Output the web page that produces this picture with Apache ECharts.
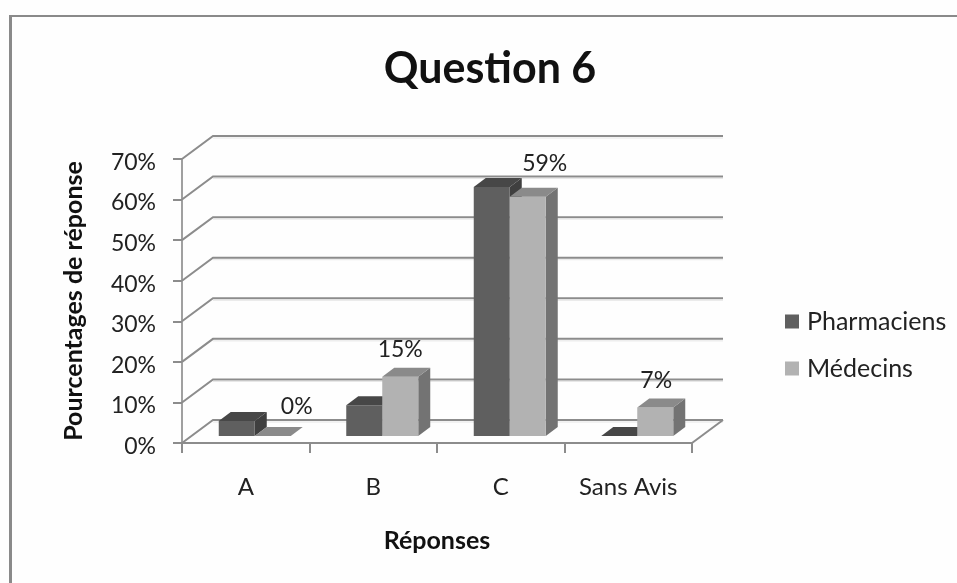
<!DOCTYPE html>
<html><head><meta charset="utf-8">
<style>html,body{margin:0;padding:0;background:#fefefe}#c{width:957px;height:583px}</style>
<script src="https://cdn.jsdelivr.net/npm/echarts@6/dist/echarts.min.js"></script>
</head><body><div id="c"></div>
<script>
const categories = ['A', 'B', 'C', 'Sans Avis'];
const pharmaciens = [3.7, 7.6, 61.4, 0];
const medecins = [0, 14.6, 59, 7];
const medecinsLabels = ['0%', '15%', '59%', '7%'];
const yTicks = [0, 10, 20, 30, 40, 50, 60, 70];

// Pseudo-3D styling (pixels)
const WALL_DX = 31, WALL_DY = -23;
const BAR_DX = 12, BAR_DY = -9, FLOOR_DX = 9, FLOOR_DY = -7;
const LABEL_SHIFT = [[24, -29], [0, -27], [17, -33], [1, -27]];
const FONT = 'Lato, Carlito, "Open Sans", sans-serif';
const GREY = '#8c8c8c';

function wallItem(params, api) {
  const v = api.value(0);
  const p = api.coord([0, v]);
  const cs = params.coordSys;
  const x0 = cs.x, x1 = cs.x + cs.width, y = p[1];
  const style = { stroke: GREY, lineWidth: 2, fill: null };
  const children = [
    { type: 'polyline', shape: { points: [[x0, y], [x0 + WALL_DX, y + WALL_DY], [x1 + WALL_DX, y + WALL_DY]] }, style },
    { type: 'line', shape: { x1: x0 + WALL_DX, y1: y + WALL_DY + 2, x2: x1 + WALL_DX, y2: y + WALL_DY + 2 }, style: { stroke: '#e6e6e6', lineWidth: 1 } }
  ];
  if (v === 0) {
    children.push({ type: 'line', shape: { x1: x1, y1: y, x2: x1 + WALL_DX, y2: y + WALL_DY }, style });
  }
  return { type: 'group', children };
}

function barItem(colors, shiftLeft, shiftRight, labels) {
  return function (params, api) {
    const i = api.value(0);
    const top = api.coord([i, api.value(1)]);
    const base = api.coord([i, 0]);
    const xl = top[0] + shiftLeft, xr = top[0] + shiftRight;
    const yb = base[1] + FLOOR_DY, yt = top[1] + FLOOR_DY;
    const children = [];
    if (yb - yt > 0.5) {
      children.push(
        { type: 'polygon', shape: { points: [[xr, yt], [xr + BAR_DX, yt + BAR_DY], [xr + BAR_DX, yb + BAR_DY], [xr, yb]] }, style: { fill: colors.side } },
        { type: 'rect', shape: { x: xl, y: yt, width: xr - xl, height: yb - yt }, style: { fill: colors.front } }
      );
    }
    children.push({ type: 'polygon', shape: { points: [[xl, yt], [xr, yt], [xr + BAR_DX, yt + BAR_DY], [xl + BAR_DX, yt + BAR_DY]] }, style: { fill: colors.top } });
    if (labels) {
      children.push({
        type: 'text', z2: 20,
        style: {
          text: labels[i], x: (xl + xr) / 2 + LABEL_SHIFT[i][0], y: yt + LABEL_SHIFT[i][1],
          fill: '#222', font: '23px ' + FONT, align: 'center', verticalAlign: 'middle'
        }
      });
    }
    return { type: 'group', children };
  };
}

const chart = echarts.init(document.getElementById('c'));
chart.setOption({
  animation: false,
  backgroundColor: '#fefefe',
  grid: { left: 182, right: 265, top: 159, bottom: 140 },
  title: {
    text: 'Question 6', left: 485, top: 43, textAlign: 'center',
    textStyle: { fontFamily: FONT, fontSize: 43, fontWeight: 'bold', color: '#111' }
  },
  legend: {
    orient: 'vertical', left: 780, top: 304, itemWidth: 14, itemHeight: 14, itemGap: 22, icon: 'rect',
    data: ['Pharmaciens', 'Médecins'],
    textStyle: { fontFamily: FONT, fontSize: 25, color: '#222', padding: [0, 0, 0, 3] }
  },
  xAxis: {
    type: 'category', data: categories,
    name: 'Réponses', nameLocation: 'middle', nameGap: 85,
    nameTextStyle: { fontFamily: FONT, fontSize: 25, fontWeight: 'bold', color: '#111' },
    axisLine: { lineStyle: { color: GREY, width: 2 } },
    axisTick: { show: true, interval: 0, length: 10, lineStyle: { color: GREY, width: 2 } },
    axisLabel: { show: true, interval: 0, hideOverlap: false, margin: 32, fontFamily: FONT, fontSize: 24, color: '#222' },
    splitLine: { show: false }
  },
  yAxis: {
    type: 'value', min: 0, max: 70, interval: 10,
    name: 'Pourcentages de réponse', nameLocation: 'middle', nameGap: 96, nameRotate: 90,
    nameTextStyle: { fontFamily: FONT, fontSize: 25, fontWeight: 'bold', color: '#111' },
    axisLine: { show: true, lineStyle: { color: '#a0a0a0', width: 2 } },
    axisTick: { show: true, length: 9, lineStyle: { color: GREY, width: 2 } },
    axisLabel: {
      margin: 26, formatter: '{t|{value}%}', fontFamily: FONT, fontSize: 23, color: '#222',
      rich: { t: { fontFamily: FONT, fontSize: 23, color: '#222', padding: [7, 0, 0, 0] } }
    },
    splitLine: { show: false }
  },
  series: [
    { type: 'custom', name: 'wall', silent: true, clip: false, z: 1,
      coordinateSystem: 'cartesian2d', encode: { x: 1, y: 0 },
      renderItem: wallItem, data: yTicks.map(v => [v, 0]) },
    { type: 'custom', name: 'Pharmaciens', silent: true, clip: false, z: 2,
      itemStyle: { color: '#5f5f5f' }, encode: { x: 0, y: 1 },
      renderItem: barItem({ front: '#5f5f5f', top: '#474747', side: '#3f3f3f' }, -27, 9, null),
      data: pharmaciens.map((v, i) => [i, v]) },
    { type: 'custom', name: 'Médecins', silent: true, clip: false, z: 3,
      itemStyle: { color: '#b2b2b2' }, encode: { x: 0, y: 1 },
      renderItem: barItem({ front: '#b2b2b2', top: '#8a8a8a', side: '#737373' }, 9, 45, medecinsLabels),
      data: medecins.map((v, i) => [i, v]) }
  ],
  graphic: [
    { type: 'rect', shape: { x: 9, y: 15, width: 948, height: 2 }, style: { fill: '#8a8a8a' }, silent: true },
    { type: 'rect', shape: { x: 9, y: 15, width: 3, height: 568 }, style: { fill: '#8a8a8a' }, silent: true }
  ]
});
</script></body></html>
